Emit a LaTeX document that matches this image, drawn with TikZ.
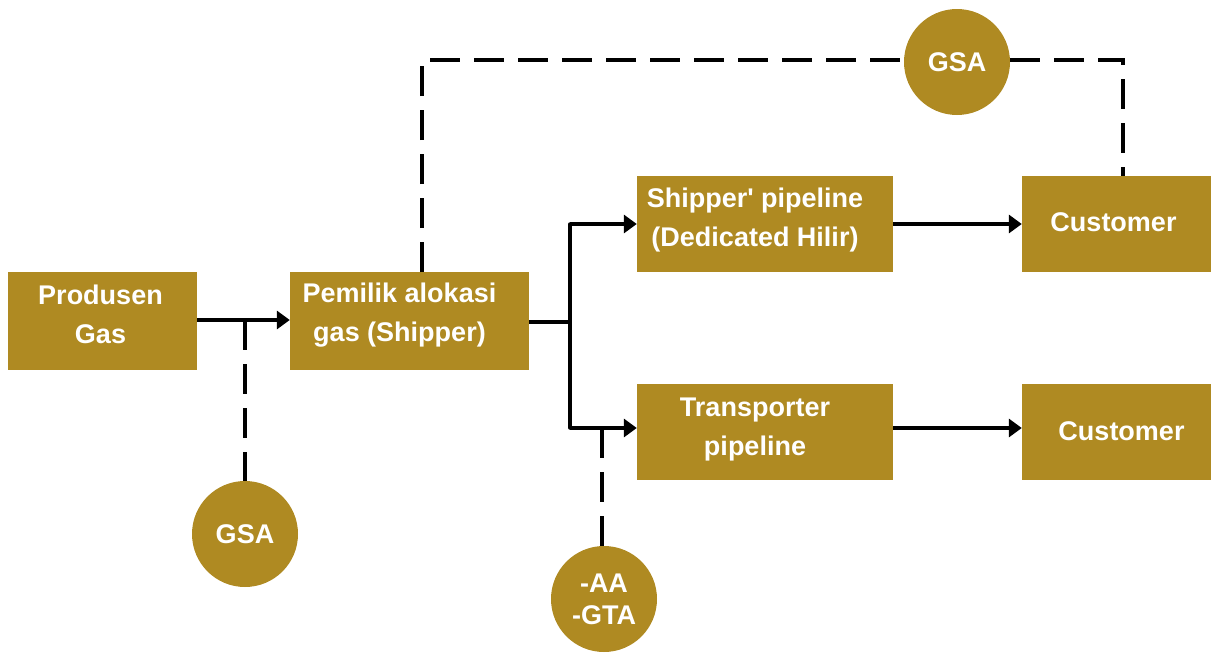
\documentclass[tikz,border=0pt]{standalone}
\usepackage{fontspec}
\setmainfont{Liberation Sans}
\usetikzlibrary{arrows.meta,calc}
\definecolor{gold}{RGB}{175,138,34}
\begin{document}
\begin{tikzpicture}[x=1pt,y=-1pt,
  box/.style={fill=gold,draw=none,inner sep=0pt},
  txt/.style={text=white,font=\fontsize{27}{39}\selectfont\bfseries,align=center},
  circ/.style={circle,fill=gold,draw=none,inner sep=0pt,minimum size=106pt,text=white,font=\fontsize{27}{32}\selectfont\bfseries,align=center},
  conn/.style={line width=3.5pt,-{Triangle[length=13pt,width=18pt]}},
  plain/.style={line width=3.5pt},
  dsh/.style={line width=3.5pt,dash pattern=on 30pt off 14pt}]
\useasboundingbox (0,0) rectangle (1211,653);
% boxes
\node[box,minimum width=189pt,minimum height=98pt,label={[txt,xshift=-2pt,yshift=7pt]center:Produsen\\Gas}] (prod) at (102.5,321) {};
\node[box,minimum width=239pt,minimum height=98pt,label={[txt,xshift=-10pt,yshift=6pt]center:Pemilik alokasi\\gas (Shipper)}] (pem) at (409.5,321) {};
\node[box,minimum width=256pt,minimum height=96pt,label={[txt,xshift=-10pt,yshift=4pt]center:Shipper\textquotesingle{} pipeline\\(Dedicated Hilir)}] (ship) at (765,224) {};
\node[box,minimum width=189pt,minimum height=96pt,label={[txt,xshift=-3pt,yshift=2pt]center:Customer}] (cust1) at (1116.5,224) {};
\node[box,minimum width=256pt,minimum height=96pt,label={[txt,xshift=-10pt,yshift=2pt]center:Transporter\\pipeline}] (trans) at (765,432) {};
\node[box,minimum width=189pt,minimum height=96pt,label={[txt,xshift=5pt,yshift=1pt]center:Customer}] (cust2) at (1116.5,432) {};
% circles
\node[circ] (gsa1) at (245,534) {GSA};
\node[circ] (gsa2) at (957,62) {GSA};
\node[circ] (aa) at (604,599) {-AA\\-GTA};
% coordinates
\coordinate (j1) at (245,320);
\coordinate (br) at (570,322);
\coordinate (bt) at (570,224);
\coordinate (bb) at (570,428);
\coordinate (j2) at (602,428);
\coordinate (pt) at (422,272);
\coordinate (ct) at (1123,176);
% solid connectors
\draw[conn] (prod.east |- j1) -- (pem.west |- j1);
\draw[plain] (pem.east |- br) -- (br);
\draw[plain,line cap=round] (bt) -- (bb);
\draw[conn] (bt) -- (ship.west |- bt);
\draw[conn] (bb) -- (trans.west |- bb);
\draw[conn] (ship.east) -- (cust1.west);
\draw[conn] (trans.east |- bb) -- (cust2.west |- bb);
% dashed connectors
\draw[dsh] (j1) -- (gsa1.north);
\draw[dsh] (j2) -- (j2 |- aa.north);
\draw[dsh] (pt) |- (gsa2.west |- 0,60);
\draw[dsh] (gsa2.east |- 0,60) -| (ct);
\end{tikzpicture}
\end{document}
